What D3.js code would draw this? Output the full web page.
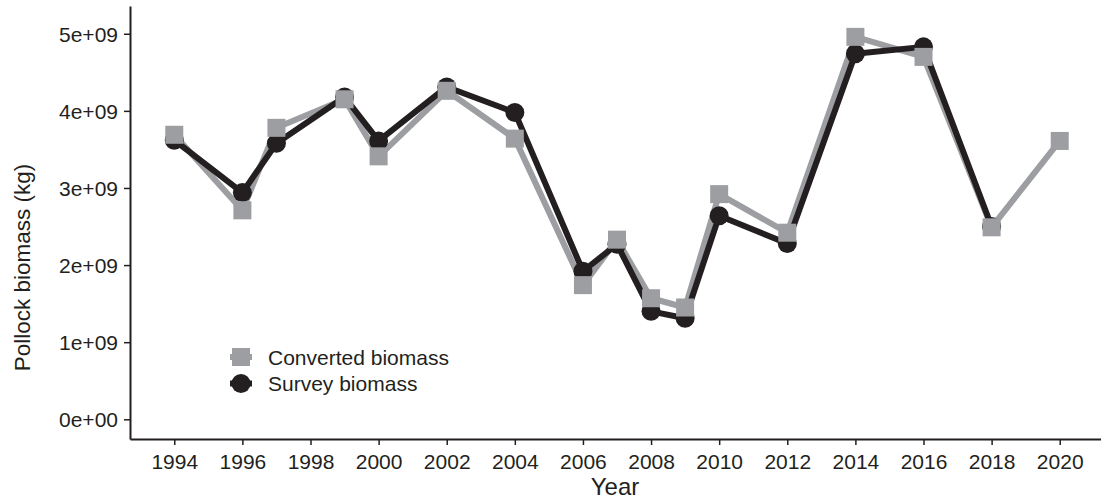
<!DOCTYPE html>
<html>
<head>
<meta charset="utf-8">
<script src="https://cdn.jsdelivr.net/npm/d3@7/dist/d3.min.js"></script>
<style>
  html, body { margin: 0; padding: 0; background: #fff; }
  svg { display: block; font-family: "Liberation Sans", Arial, Helvetica, sans-serif; }
</style>
</head>
<body>
<svg id="chart" width="1101" height="501"></svg>
<script>
// Survey years
const years = [1994, 1996, 1997, 1999, 2000, 2002, 2004, 2006, 2007, 2008, 2009, 2010, 2012, 2014, 2016, 2018, 2020];
// Pollock biomass (kg)
const converted = [3.69e9, 2.71e9, 3.78e9, 4.15e9, 3.41e9, 4.26e9, 3.64e9, 1.74e9, 2.33e9, 1.57e9, 1.45e9, 2.92e9, 2.42e9, 4.96e9, 4.70e9, 2.49e9, 3.61e9];
const survey    = [3.62e9, 2.94e9, 3.58e9, 4.18e9, 3.61e9, 4.31e9, 3.98e9, 1.92e9, 2.27e9, 1.40e9, 1.31e9, 2.64e9, 2.28e9, 4.74e9, 4.83e9, 2.50e9, null];
// Axis ticks
const xTicks = [1994, 1996, 1998, 2000, 2002, 2004, 2006, 2008, 2010, 2012, 2014, 2016, 2018, 2020];
const yTicks = [0, 1e9, 2e9, 3e9, 4e9, 5e9];
const seriesNames = ["Converted biomass", "Survey biomass"];

const INK = "#231f20";
const GREY = "#9d9ea2";

const svg = d3.select("#chart");
const M = { left: 130, right: 1104, top: 6, bottom: 439 };

const x = d3.scaleLinear().domain([1992.7, 2021.3]).range([M.left, M.right]);
const y = d3.scaleLinear().domain([-0.2555e9, 5.36e9]).range([M.bottom, M.top]);

// R-style scientific labels, e.g. 5e+09
const sci = v => {
  if (v === 0) return "0e+00";
  const e = Math.floor(Math.log10(Math.abs(v)));
  const m = +(v / Math.pow(10, e)).toFixed(2);
  return `${m}e${e >= 0 ? "+" : "-"}${String(Math.abs(e)).padStart(2, "0")}`;
};

// Axes
const xAxis = svg.append("g")
  .attr("transform", `translate(0,${M.bottom})`)
  .call(d3.axisBottom(x).tickValues(xTicks).tickFormat(d3.format("d")).tickSize(6).tickPadding(6).tickSizeOuter(0));
const yAxis = svg.append("g")
  .attr("transform", `translate(${M.left},0)`)
  .call(d3.axisLeft(y).tickValues(yTicks).tickFormat(sci).tickSize(6).tickPadding(6).tickSizeOuter(0));

[xAxis, yAxis].forEach(g => {
  g.select(".domain").attr("stroke", INK).attr("stroke-width", 2);
  g.selectAll(".tick line").attr("stroke", INK).attr("stroke-width", 1.5);
  g.selectAll(".tick text").attr("fill", INK).attr("font-size", 21)
    .attr("font-family", "'Liberation Sans', Arial, sans-serif");
});
xAxis.selectAll(".tick text").attr("dy", "0.86em");
yAxis.selectAll(".tick text").attr("dy", "0.36em");

// Axis titles
svg.append("text")
  .attr("x", (M.left + 1100) / 2).attr("y", 495)
  .attr("text-anchor", "middle").attr("font-size", 24).attr("fill", INK)
  .text("Year");
svg.append("text")
  .attr("transform", `translate(30,${(M.top + M.bottom) / 2 + 45}) rotate(-90)`)
  .attr("text-anchor", "middle").attr("font-size", 22.5).attr("fill", INK)
  .text("Pollock biomass (kg)");

// Series
const convData = years.map((yr, i) => ({ yr, v: converted[i] })).filter(d => d.v != null);
const survData = years.map((yr, i) => ({ yr, v: survey[i] })).filter(d => d.v != null);

const line = d3.line().x(d => x(d.yr)).y(d => y(d.v));
const SQ = 18, R = 9.5;

svg.append("path").datum(convData).attr("d", line)
  .attr("fill", "none").attr("stroke", GREY).attr("stroke-width", 6).attr("stroke-linejoin", "round");
svg.append("path").datum(survData).attr("d", line)
  .attr("fill", "none").attr("stroke", INK).attr("stroke-width", 6).attr("stroke-linejoin", "round");

svg.append("g").selectAll("circle").data(survData).join("circle")
  .attr("cx", d => x(d.yr)).attr("cy", d => y(d.v)).attr("r", R).attr("fill", INK);
svg.append("g").selectAll("rect").data(convData).join("rect")
  .attr("x", d => x(d.yr) - SQ / 2).attr("y", d => y(d.v) - SQ / 2)
  .attr("width", SQ).attr("height", SQ).attr("fill", GREY);

// Legend
const legend = svg.append("g").attr("transform", "translate(241,357)");
const keys = [
  { name: seriesNames[0], color: GREY, shape: "square" },
  { name: seriesNames[1], color: INK, shape: "circle" }
];
keys.forEach((k, i) => {
  const g = legend.append("g").attr("transform", `translate(0,${i * 26.5})`);
  g.append("line").attr("x1", -11).attr("x2", 11).attr("y1", 0).attr("y2", 0)
    .attr("stroke", k.color).attr("stroke-width", 6);
  if (k.shape === "square") {
    g.append("rect").attr("x", -SQ / 2).attr("y", -SQ / 2).attr("width", SQ).attr("height", SQ).attr("fill", k.color);
  } else {
    g.append("circle").attr("r", R).attr("fill", k.color);
  }
  g.append("text").attr("x", 27).attr("y", 0).attr("dy", "0.36em")
    .attr("font-size", 21).attr("fill", INK).text(k.name);
});
</script>
</body>
</html>
